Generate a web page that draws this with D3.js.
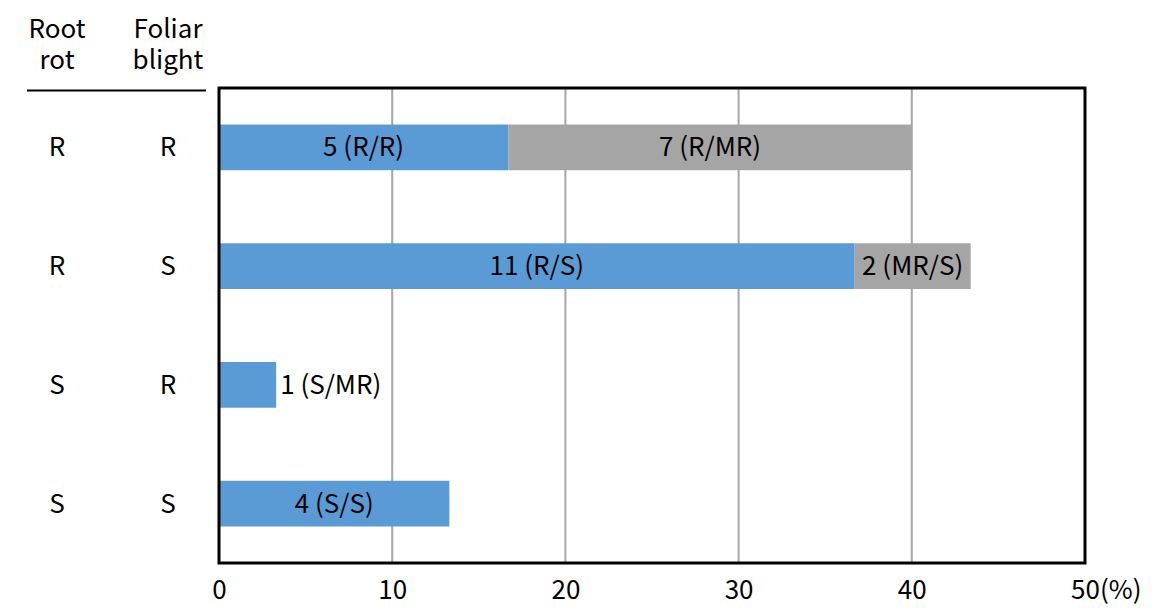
<!DOCTYPE html>
<html><head><meta charset="utf-8">
<script src="https://cdn.jsdelivr.net/npm/d3@7"></script>
<style>
body{margin:0;background:#fff;}
text{font-family:"Noto Sans CJK KR","Noto Sans",sans-serif;fill:#000;}
</style></head>
<body><svg id="c" width="1158" height="616"></svg>
<script>
const rootRot = ["R","R","S","S"];
const foliarBlight = ["R","S","R","S"];
const rowIds = ["RR","RS","SR","SS"];
const primaryValues = [16.7, 36.7, 3.3, 13.3];
const primaryLabels = ["5 (R/R)","11 (R/S)","1 (S/MR)","4 (S/S)"];
const secondaryValues = [23.3, 6.7, 0, 0];
const secondaryLabels = ["7 (R/MR)","2 (MR/S)","",""];
const xTicks = [0,10,20,30,40,50];

const svg = d3.select("#c");
const L=219, R=1085, T=88, B=563;
const x = d3.scaleLinear().domain([0,50]).range([L,R]);
const y = d3.scaleBand().domain(rowIds).range([T,B]).paddingInner(0.615).paddingOuter(0.3075);
const blue="#5b9bd5", gray="#a5a5a5";
const fs = 26;

// gridlines
svg.append("g").selectAll("line").data(xTicks.filter(d=>d>0&&d<50)).join("line")
  .attr("x1",d=>x(d)).attr("x2",d=>x(d)).attr("y1",T).attr("y2",B)
  .attr("stroke","#a6a6a6").attr("stroke-width",2);

// bars
const rows = rowIds.map((id,i)=>({id,p:primaryValues[i],s:secondaryValues[i],pl:primaryLabels[i],sl:secondaryLabels[i]}));
svg.append("g").selectAll("rect").data(rows).join("rect")
  .attr("x",x(0)).attr("y",d=>y(d.id)).attr("width",d=>x(d.p)-x(0)).attr("height",y.bandwidth()).attr("fill",blue);
svg.append("g").selectAll("rect").data(rows.filter(d=>d.s>0)).join("rect")
  .attr("x",d=>x(d.p)).attr("y",d=>y(d.id)).attr("width",d=>x(d.p+d.s)-x(d.p)).attr("height",y.bandwidth()).attr("fill",gray);

// labels
svg.append("g").selectAll("text").data(rows).join("text")
  .attr("x",d=> d.p<5 ? x(d.p)+4 : (x(0)+x(d.p))/2)
  .attr("text-anchor",d=> d.p<5 ? "start":"middle")
  .attr("y",d=>y(d.id)+y.bandwidth()/2).attr("dy","0.35em")
  .attr("font-size",fs).text(d=>d.pl);
svg.append("g").selectAll("text").data(rows.filter(d=>d.s>0)).join("text")
  .attr("x",d=>(x(d.p)+x(d.p+d.s))/2).attr("text-anchor","middle")
  .attr("y",d=>y(d.id)+y.bandwidth()/2).attr("dy","0.35em")
  .attr("font-size",fs).text(d=>d.sl);

// frame
svg.append("rect").attr("x",L).attr("y",T).attr("width",R-L).attr("height",B-T)
  .attr("fill","none").attr("stroke","#000").attr("stroke-width",3);

// x axis
const ax = svg.append("g").attr("transform",`translate(0,${B})`)
  .call(d3.axisBottom(x).tickValues(xTicks).tickSize(0).tickPadding(18).tickFormat(d3.format("d")));
ax.select(".domain").remove();
ax.selectAll("text").attr("font-size",fs).attr("font-family",'"Noto Sans CJK KR","Noto Sans",sans-serif').attr("fill","#000");
ax.selectAll(".tick").filter(d=>d===50).each(function(){
  const t=d3.select(this).select("text");
  const w=t.node().getComputedTextLength();
  t.attr("text-anchor","start").attr("x",-w/2).text("50(%)");
});

// header
const c1=57, c2=168;
const hdr = svg.append("g");
[["Root","rot",c1],["Foliar","blight",c2]].forEach(([a,b,cx])=>{
  const t=hdr.append("text").attr("text-anchor","middle").attr("font-size",fs);
  t.append("tspan").attr("x",cx).attr("y",38).text(a);
  t.append("tspan").attr("x",cx).attr("y",69).text(b);
});
svg.append("line").attr("x1",27).attr("x2",206).attr("y1",90.5).attr("y2",90.5).attr("stroke","#000").attr("stroke-width",2);

// row labels
const rl = rows.map((d,i)=>({id:d.id,r:rootRot[i],f:foliarBlight[i]}));
svg.append("g").selectAll("text").data(rl).join("text")
  .attr("x",c1).attr("text-anchor","middle").attr("y",d=>y(d.id)+y.bandwidth()/2).attr("dy","0.35em").attr("font-size",fs).text(d=>d.r);
svg.append("g").selectAll("text").data(rl).join("text")
  .attr("x",c2).attr("text-anchor","middle").attr("y",d=>y(d.id)+y.bandwidth()/2).attr("dy","0.35em").attr("font-size",fs).text(d=>d.f);
</script></body></html>
